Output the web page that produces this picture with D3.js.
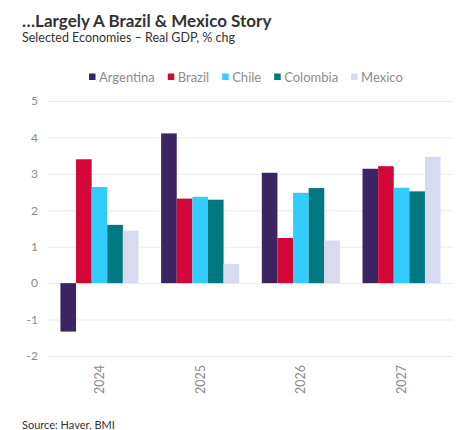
<!DOCTYPE html>
<html><head><meta charset="utf-8">
<script src="https://cdn.jsdelivr.net/npm/d3@7"></script>
<style>body{margin:0;background:#fff;font-family:Lato,"Noto Sans",sans-serif;}</style>
</head><body><svg id="c" width="475" height="430"></svg>
<script>
const years = ["2024","2025","2026","2027"];
const countries = ["Argentina","Brazil","Chile","Colombia","Mexico"];
const argentina = [-1.33, 4.11, 3.03, 3.14];
const brazil = [3.40, 2.32, 1.24, 3.21];
const chile = [2.64, 2.37, 2.48, 2.62];
const colombia = [1.60, 2.29, 2.61, 2.52];
const mexico = [1.44, 0.53, 1.17, 3.47];
const yTicks = [-2,-1,0,1,2,3,4,5];
const colors = ["#3a2462","#d20637","#33ccff","#00787f","#d8dbef"];

const seriesVals = [argentina, brazil, chile, colombia, mexico];
const svg = d3.select("#c");
svg.append("rect").attr("width",475).attr("height",430).attr("fill","#fff");

const x0 = d3.scaleBand().domain(years).range([48,453]).paddingInner(0.225).paddingOuter(0.1235);
const x1 = d3.scaleBand().domain(countries).range([0,x0.bandwidth()]);
const y = d3.scaleLinear().domain([-2,5]).range([356,101]);
const color = d3.scaleOrdinal().domain(countries).range(colors);

// title
svg.append("text").attr("x",22).attr("y",27).attr("font-size",17).attr("font-weight","bold").attr("fill","#333").text("\u2026Largely A Brazil & Mexico Story");
svg.append("text").attr("x",22).attr("y",42).attr("font-size",12.5).attr("fill","#333").text("Selected Economies \u2013 Real GDP, % chg");

// grid
const yAxis = d3.axisLeft(y).tickValues(yTicks).tickSize(-(453-48)).tickPadding(10).tickFormat(d => String(d));
const gy = svg.append("g").attr("transform","translate(48,0)").call(yAxis);
gy.select(".domain").remove();
gy.selectAll(".tick line").attr("stroke","#ebebeb").attr("stroke-width",1);
gy.selectAll(".tick text").attr("font-size",12).attr("fill","#8c8c8c").attr("font-family","Lato").attr("x",-10);

// bars
const groups = svg.append("g").selectAll("g").data(years).join("g")
  .attr("transform", d => `translate(${x0(d)},0)`);
groups.selectAll("rect").data((d,i) => countries.map((c,j) => ({c, v: seriesVals[j][i]})))
  .join("rect")
  .attr("x", d => x1(d.c))
  .attr("width", x1.bandwidth())
  .attr("y", d => y(Math.max(0,d.v)))
  .attr("height", d => Math.abs(y(d.v)-y(0)))
  .attr("fill", d => color(d.c));

// x labels
const xAxis = d3.axisBottom(x0).tickSize(0);
const gx = svg.append("g").attr("transform","translate(0,365)").call(xAxis);
gx.select(".domain").remove();
gx.selectAll(".tick text").attr("transform","rotate(-90)").attr("text-anchor","end")
  .attr("x",0).attr("y",0).attr("dy","0.35em").attr("font-size",12.5).attr("fill","#8c8c8c").attr("font-family","Lato");

// legend
const leg = svg.append("g").attr("font-size",13).attr("font-family","Lato");
let lx = 89;
countries.forEach((c,i) => {
  const g = leg.append("g").attr("transform",`translate(${lx},0)`);
  g.append("rect").attr("x",0).attr("y",73.5).attr("width",6.5).attr("height",6.5).attr("fill",colors[i]);
  const t = g.append("text").attr("x",10).attr("y",81.5).attr("fill","#8c8c8c").text(c);
  lx += 10 + t.node().getComputedTextLength() + 13;
});

svg.append("text").attr("x",22).attr("y",429).attr("font-size",11).attr("fill","#333").text("Source: Haver, BMI");
</script></body></html>
